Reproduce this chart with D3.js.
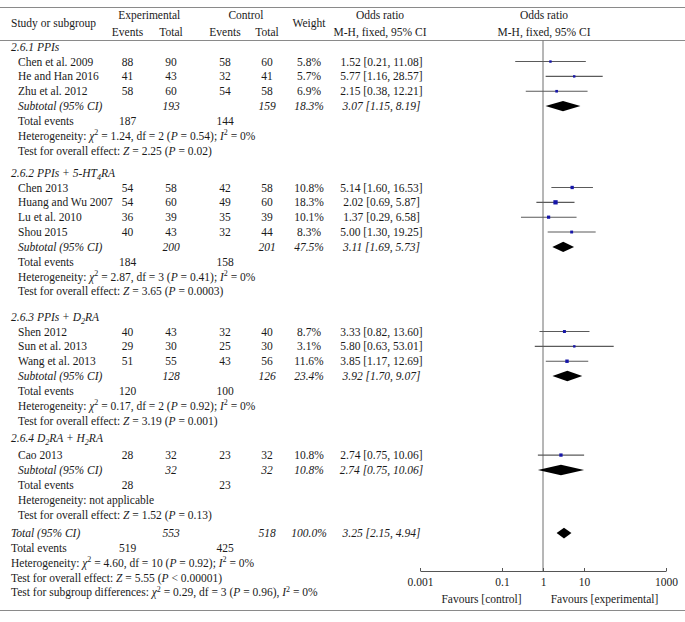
<!DOCTYPE html>
<html><head><meta charset="utf-8">
<script src="https://cdn.jsdelivr.net/npm/d3@7"></script>
<style>
body{margin:0;background:#fff}
text{font-family:"Liberation Serif","Times New Roman",serif;font-size:11.5px;fill:#1a1a1a}
</style>
</head><body>
<svg id="chart" width="685" height="622"></svg>
<script>
// ---------------- DATA ----------------
const studies = ["Chen et al. 2009","He and Han 2016","Zhu et al. 2012","Chen 2013","Huang and Wu 2007","Lu et al. 2010","Shou 2015","Shen 2012","Sun et al. 2013","Wang et al. 2013","Cao 2013"];
const studyGroup = [0,0,0,1,1,1,1,2,2,2,3];
const expEvents = [88,41,58,54,54,36,40,40,29,51,28];
const expTotal  = [90,43,60,58,60,39,43,43,30,55,32];
const ctlEvents = [58,32,54,42,49,35,32,32,25,43,23];
const ctlTotal  = [60,41,58,58,60,39,44,40,30,56,32];
const weights   = [5.8,5.7,6.9,10.8,18.3,10.1,8.3,8.7,3.1,11.6,10.8];
const oddsRatio = [1.52,5.77,2.15,5.14,2.02,1.37,5.00,3.33,5.80,3.85,2.74];
const ciLow     = [0.21,1.16,0.38,1.60,0.69,0.29,1.30,0.82,0.63,1.17,0.75];
const ciHigh    = [11.08,28.57,12.21,16.53,5.87,6.58,19.25,13.60,53.01,12.69,10.06];

const groupNames   = ["2.6.1 PPIs","2.6.2 PPIs + 5-HT_4RA","2.6.3 PPIs + D_2RA","2.6.4 D_2RA + H_2RA"];
const subExpTotal  = [193,200,128,32];
const subCtlTotal  = [159,201,126,32];
const subExpEvents = [187,184,120,28];
const subCtlEvents = [144,158,100,23];
const subWeight    = [18.3,47.5,23.4,10.8];
const subOR        = [3.07,3.11,3.92,2.74];
const subLow       = [1.15,1.69,1.70,0.75];
const subHigh      = [8.19,5.73,9.07,10.06];
const hetChi2      = ["1.24","2.87","0.17",null];
const hetDf        = [2,3,2,null];
const hetP         = ["0.54","0.41","0.92",null];
const hetI2        = [0,0,0,null];
const effectZ      = ["2.25","3.65","3.19","1.52"];
const effectP      = ["= 0.02","= 0.0003","= 0.001","= 0.13"];

const totalCounts  = [553,518];      // experimental, control totals
const totalEvents  = [519,425];
const totalWeight  = 100.0;
const totalOR      = [3.25,2.15,4.94];
const totalHet     = ["4.60",10,"0.92",0];
const totalEffect  = ["5.55","< 0.00001"];
const subgroupDiff = ["0.29",3,"0.96",0];

const axisTicks = [0.001,0.1,1,10,1000];
const favourLabels = ["Favours [control]","Favours [experimental]"];

// ---------------- LAYOUT ----------------
const svg = d3.select("#chart");
const W = 685;
const f2 = d3.format(".2f"), f1 = d3.format(".1f");
const col = {group:11, study:18, ee:127.5, et:171, ce:225, ct:267, w:309, or:381.5};
const x = d3.scaleLog().domain([0.001,1000]).range([420,666]);
const axisY = 571;

// rich text: *..* italic, _c subscript, ^c superscript
function rich(sel, str, italicBase){
  let it = !!italicBase, i = 0, buf = "", shift = 0;
  const flush = () => { if(buf){ const t = sel.append("tspan").text(buf).attr("font-style", it?"italic":"normal"); if(shift){t.attr("dy",-shift);shift=0;} buf=""; } };
  while(i < str.length){
    const c = str[i];
    if(c === "*"){ flush(); it = !it; i++; continue; }
    if(c === "_" || c === "^"){
      flush();
      const d = c === "_" ? 3 : -4.5;
      sel.append("tspan").text(str[i+1]).style("font-size","8px").attr("dy", d + shift).attr("font-style", it?"italic":"normal");
      shift = d; i += 2; continue;
    }
    buf += c; i++;
  }
  flush();
  return sel;
}
function txt(xp, yp, str, anchor, italic){
  const t = svg.append("text").attr("x", xp).attr("y", yp).attr("dy","0.35em").attr("text-anchor", anchor||"start");
  rich(t, str, italic);
  return t;
}

// rows
const step = 14.85, y0 = 46.7;
const sectionGap = [0,0.48,0.7,0.17];
const rows = [];
let slot = 0;
groupNames.forEach((g,gi)=>{
  slot += sectionGap[gi];
  rows.push({kind:"group",gi,slot}); slot++;
  if(gi===3) slot += 0.15;
  studies.forEach((s,i)=>{ if(studyGroup[i]===gi){ rows.push({kind:"study",i,slot}); slot++; } });
  ["subtotal","events","het","effect"].forEach(k=>{ rows.push({kind:k,gi,slot}); slot++; });
});
slot += 0.25;
["total","tevents","thet","teffect","tdiff"].forEach(k=>{ rows.push({kind:k,slot}); slot++; });
const yOf = s => y0 + s*step;

// rules
const rule = (yy)=> svg.append("line").attr("x1",0).attr("x2",W).attr("y1",yy).attr("y2",yy).attr("stroke","#8a8a8a").attr("stroke-width",1);
rule(7.5); rule(40.5); rule(610.5);

// header
txt(col.group, 23, "Study or subgroup");
txt((col.ee+col.et)/2, 15, "Experimental", "middle");
txt(col.ee, 31.5, "Events", "middle");
txt(col.et, 31.5, "Total", "middle");
txt((col.ce+col.ct)/2, 15, "Control", "middle");
txt(col.ce, 31.5, "Events", "middle");
txt(col.ct, 31.5, "Total", "middle");
txt(col.w, 23, "Weight", "middle");
txt(380, 15, "Odds ratio", "middle");
txt(380, 31.5, "M-H, fixed, 95% CI", "middle");
txt(x(1)+1, 15, "Odds ratio", "middle");
txt(x(1)+1, 31.5, "M-H, fixed, 95% CI", "middle");

// null line
svg.append("line").attr("x1",x(1)).attr("x2",x(1)).attr("y1",40.5).attr("y2",axisY).attr("stroke","#6e6e6e").attr("stroke-width",1);

const sq = d3.scaleSqrt().domain([0,18.3]).range([0,4.3]);
function diamond(yy, o, lo, hi, h){
  svg.append("path").attr("fill","#000")
    .attr("d", `M${x(lo)},${yy}L${x(o)},${yy-h}L${x(hi)},${yy}L${x(o)},${yy+h}Z`);
}
const hetStr = (c,df,p,i2,sep)=> c===null ? "Heterogeneity: not applicable"
  : `Heterogeneity: *χ*^2 = ${c}, df = ${df} (*P* = ${p})${sep} *I*^2 = ${i2}%`;

rows.forEach(r=>{
  const yy = yOf(r.slot);
  switch(r.kind){
    case "group": txt(col.group, yy, groupNames[r.gi], "start", true); break;
    case "study": {
      const i = r.i;
      txt(col.study, yy, studies[i]);
      txt(col.ee, yy, String(expEvents[i]), "middle");
      txt(col.et, yy, String(expTotal[i]), "middle");
      txt(col.ce, yy, String(ctlEvents[i]), "middle");
      txt(col.ct, yy, String(ctlTotal[i]), "middle");
      txt(col.w, yy, f1(weights[i])+"%", "middle");
      txt(col.or, yy, `${f2(oddsRatio[i])} [${f2(ciLow[i])}, ${f2(ciHigh[i])}]`, "middle");
      svg.append("line").attr("x1",x(ciLow[i])).attr("x2",x(ciHigh[i])).attr("y1",yy).attr("y2",yy)
        .attr("stroke","#5a5a5a").attr("stroke-width",1.1);
      const s = Math.max(2.4, sq(weights[i]));
      svg.append("rect").attr("x",x(oddsRatio[i])-s/2).attr("y",yy-s/2).attr("width",s).attr("height",s).attr("fill","#1616a8");
      break; }
    case "subtotal":
      txt(col.study, yy, "Subtotal (95% CI)", "start", true);
      txt(col.et, yy, String(subExpTotal[r.gi]), "middle", true);
      txt(col.ct, yy, String(subCtlTotal[r.gi]), "middle", true);
      txt(col.w, yy, f1(subWeight[r.gi])+"%", "middle", true);
      txt(col.or, yy, `${f2(subOR[r.gi])} [${f2(subLow[r.gi])}, ${f2(subHigh[r.gi])}]`, "middle", true);
      diamond(yy, subOR[r.gi], subLow[r.gi], subHigh[r.gi], 5.2);
      break;
    case "events":
      txt(col.study, yy, "Total events");
      txt(col.ee, yy, String(subExpEvents[r.gi]), "middle");
      txt(col.ce, yy, String(subCtlEvents[r.gi]), "middle");
      break;
    case "het": txt(col.study, yy, hetStr(hetChi2[r.gi],hetDf[r.gi],hetP[r.gi],hetI2[r.gi],";")); break;
    case "effect": txt(col.study, yy, `Test for overall effect: *Z* = ${effectZ[r.gi]} (*P* ${effectP[r.gi]})`); break;
    case "total":
      txt(col.group, yy, "Total (95% CI)", "start", true);
      txt(col.et, yy, String(totalCounts[0]), "middle", true);
      txt(col.ct, yy, String(totalCounts[1]), "middle", true);
      txt(col.w, yy, f1(totalWeight)+"%", "middle", true);
      txt(col.or, yy, `${f2(totalOR[0])} [${f2(totalOR[1])}, ${f2(totalOR[2])}]`, "middle", true);
      diamond(yy, totalOR[0], totalOR[1], totalOR[2], 5.4);
      break;
    case "tevents":
      txt(col.group, yy, "Total events");
      txt(col.ee, yy, String(totalEvents[0]), "middle");
      txt(col.ce, yy, String(totalEvents[1]), "middle");
      break;
    case "thet": txt(col.group, yy, hetStr(...totalHet,";")); break;
    case "teffect": txt(col.group, yy, `Test for overall effect: *Z* = ${totalEffect[0]} (*P* ${totalEffect[1]})`); break;
    case "tdiff": txt(col.group, yy, `Test for subgroup differences: *χ*^2 = ${subgroupDiff[0]}, df = ${subgroupDiff[1]} (*P* = ${subgroupDiff[2]}), *I*^2 = ${subgroupDiff[3]}%`); break;
  }
});

// axis
const ax = svg.append("g").attr("transform",`translate(0,${axisY})`)
  .call(d3.axisBottom(x).tickValues(axisTicks).tickFormat(d=>String(d)).tickSize(-3).tickSizeOuter(0).tickPadding(7));
ax.select(".domain").attr("stroke","#555");
ax.selectAll(".tick line").attr("stroke","#555");
ax.selectAll(".tick text").attr("font-family",null).attr("font-size",null).attr("fill","#1a1a1a");
txt(x(Math.pow(10,-1.5)), 598.5, favourLabels[0], "middle");
txt(x(Math.pow(10,1.5)), 598.5, favourLabels[1], "middle");
</script>
</body></html>
